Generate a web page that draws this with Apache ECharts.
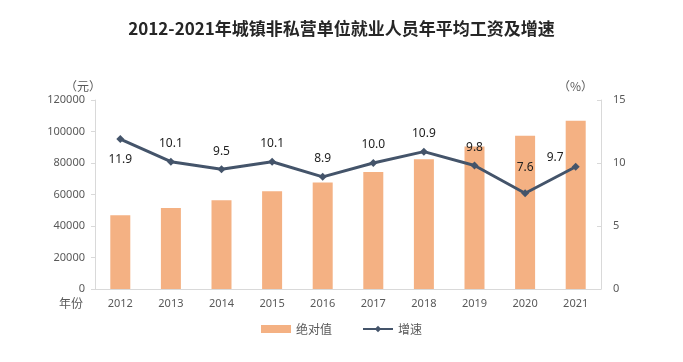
<!DOCTYPE html>
<html><head><meta charset="utf-8">
<script src="https://cdn.jsdelivr.net/npm/echarts@6/dist/echarts.min.js"></script>
<style>html,body{margin:0;padding:0;background:#fff}#c{width:683px;height:362px}</style>
</head><body><div id="c"></div>
<script>
var years = ['2012','2013','2014','2015','2016','2017','2018','2019','2020','2021'];
var wages = [46769, 51483, 56360, 62029, 67569, 74318, 82413, 90501, 97379, 106837];
var growth = [11.9, 10.1, 9.5, 10.1, 8.9, 10.0, 10.9, 9.8, 7.6, 9.7];
var leftTicks = [0, 20000, 40000, 60000, 80000, 100000, 120000];
var rightTicks = [0, 5, 10, 15];
var labelPos = ['bottom','top','top','top','top','top','top','top','top','left'];

var chart = echarts.init(document.getElementById('c'));
var grey = '#595959';
chart.setOption({
  animation: false,
  title: {
    text: '2012-2021年城镇非私营单位就业人员年平均工资及增速',
    left: 'center', top: 15,
    textStyle: {fontFamily: '"Noto Sans CJK SC", "Liberation Serif", serif', fontSize: 17, fontWeight: 'bold', color: '#262626'}
  },
  legend: {
    bottom: 22, left: 'center', itemGap: 30, itemWidth: 30, itemHeight: 8,
    textStyle: {color: grey, fontSize: 12, fontFamily: '"Noto Sans CJK SC", sans-serif'},
    data: [{name: '绝对值', icon: 'rect'}, {name: '增速'}]
  },
  grid: {left: 95, right: 82, top: 100, bottom: 73},
  xAxis: {
    type: 'category', data: years,
    axisLine: {lineStyle: {color: '#d9d9d9'}},
    axisTick: {show: false},
    axisLabel: {color: grey, fontSize: 11, margin: 9, fontFamily: '"Noto Sans", sans-serif'},
    name: '年份', nameLocation: 'start', nameGap: 12,
    nameTextStyle: {color: grey, fontSize: 12, verticalAlign: 'top', padding: [8, 0, 0, 0], fontFamily: '"Noto Sans CJK SC", sans-serif'}
  },
  yAxis: [{
    type: 'value', min: 0, max: 120000, interval: 20000,
    axisLine: {show: true, lineStyle: {color: '#d9d9d9'}},
    axisTick: {show: true, length: 4, lineStyle: {color: '#d9d9d9'}},
    splitLine: {show: false},
    axisLabel: {color: grey, fontSize: 11, margin: 10, fontFamily: '"Noto Sans", sans-serif',
      formatter: function(v){ return leftTicks.indexOf(v) >= 0 ? String(v) : ''; }},
    name: '（元）', nameGap: 8,
    nameTextStyle: {color: grey, fontSize: 12, align: 'right', padding: [0, -6, 0, 0], fontFamily: '"Noto Sans CJK SC", sans-serif'}
  }, {
    type: 'value', min: 0, max: 15, interval: 5, position: 'right',
    axisLine: {show: true, lineStyle: {color: '#d9d9d9'}},
    axisTick: {show: true, inside: true, length: 4, lineStyle: {color: '#d9d9d9'}},
    splitLine: {show: false},
    axisLabel: {color: grey, fontSize: 11, margin: 12, fontFamily: '"Noto Sans", sans-serif',
      formatter: function(v){ return rightTicks.indexOf(v) >= 0 ? String(v) : ''; }},
    name: '（%）', nameGap: 8,
    nameTextStyle: {color: grey, fontSize: 12, align: 'right', padding: [0, 8, 0, 0], fontFamily: '"Noto Sans CJK SC", sans-serif'}
  }],
  series: [{
    name: '绝对值', type: 'bar', data: wages, barWidth: 20,
    itemStyle: {color: '#F4B183'}
  }, {
    name: '增速', type: 'line', yAxisIndex: 1,
    data: growth.map(function(v, i){
      var lab = {position: labelPos[i], distance: 8};
      if (i === 9) { lab.offset = [0, -9]; lab.distance = 8; }
      if (i === 0) { lab.distance = 11; }
      if (i === 8) { lab.distance = 16; }
      return {value: v, label: lab};
    }),
    symbol: 'diamond', symbolSize: 8,
    lineStyle: {color: '#44546A', width: 3},
    itemStyle: {color: '#44546A'},
    label: {show: true, color: '#222', fontSize: 12, fontFamily: '"Noto Sans", sans-serif',
      formatter: function(p){ return p.value.toFixed(1); }}
  }]
});
</script></body></html>
